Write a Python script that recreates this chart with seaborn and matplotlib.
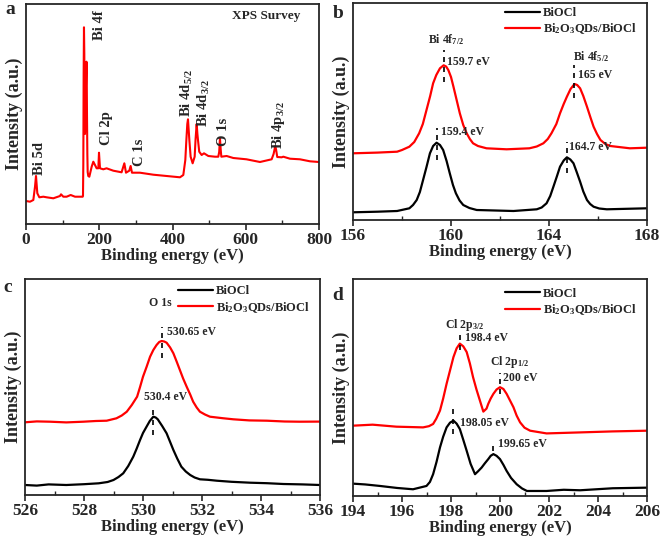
import numpy as np
import pandas as pd
import seaborn as sns
import matplotlib.pyplot as plt
from matplotlib.ticker import MultipleLocator

# survey spectrum (panel a), binding energy in eV and intensity in a.u.
survey_x = [0, 10.9, 20, 24.6, 27.3, 30.9, 36.4, 47.3, 56.4, 74.6, 92.8, 95.6, 101.9, 111, 122,
            133.8, 154.7, 155.6, 156.5, 157.4, 158.3, 159.2, 160.1, 161, 162, 163.8, 165, 165.6,
            166.5, 167.5, 168.4, 170, 172.9, 179.3, 183.8, 192.9, 197.5, 199.3, 202, 211, 220,
            238.4, 261, 268.5, 273, 282, 285.7, 289.4, 311, 347.6, 384, 420.4, 429.5, 435, 438,
            440.4, 442.3, 444, 446, 449.5, 455, 460.5, 463, 466, 468, 469.6, 473, 479.6, 486,
            497.8, 516, 525, 527.5, 529.6, 531.5, 533.3, 547.8, 566, 602, 638.8, 670.7, 676,
            680.7, 683, 686, 698, 702.5, 720.7, 748, 775.3, 800]
survey_y = [23, 22.3, 24, 37.3, 48, 30.7, 26.7, 27.3, 26.7, 25.7, 28, 29.7, 27.3, 27.3, 29,
            27.3, 27.3, 28, 60, 150, 196.7, 170, 110, 90, 100, 140, 162.3, 160, 110, 70, 52,
            48, 47.3, 57.3, 62.3, 55.7, 55.7, 71.3, 55.7, 54.7, 55.7,
            53.3, 51.7, 60.7, 51.3, 53.3, 58, 51.3, 51.3, 49.3, 48, 46.7, 49, 64, 85,
            100, 104.7, 95, 84, 67.3, 60.7, 67.3, 85, 100, 90, 84, 72.3, 69, 70.7,
            68, 67.3, 67.3, 72, 85.7, 75, 67.3, 68, 66, 64.7, 62, 64.7, 70,
            78, 74, 67, 66.7, 67.3, 65.3, 64.7, 62.7, 62]

# Bi 4f (panel b)
bi4f_x_red = [156, 157.0, 157.8, 158.0, 158.3, 158.5, 158.7, 158.85, 159.0, 159.15, 159.27,
              159.4, 159.55, 159.7, 159.8, 159.89, 160.0, 160.1, 160.23, 160.36, 160.5, 160.64,
              160.77, 160.9, 161.1, 161.45, 162.27, 163.2, 163.5, 163.77, 163.95, 164.1, 164.3,
              164.45, 164.6, 164.73, 164.88, 165.04, 165.15, 165.27, 165.4, 165.55, 165.7,
              165.82, 165.96, 166.1, 166.3, 166.5, 167.3, 168]
bi4f_y_red = [66.7, 67.4, 68.3, 70, 73.3, 78, 86.7, 96, 110, 124, 136.7,
              145, 151.7, 154.7, 153.5, 150, 143, 133.3, 120, 106.7, 95, 86.7,
              81, 76.7, 74, 71.7, 70.7, 71.7, 73.5, 76.7, 81, 86.7, 96,
              106.7, 116, 123.3, 131, 136, 135, 131.7, 124, 113.3, 102,
              93.3, 86, 80, 76, 74, 71.7, 72.3]
bi4f_x_blk = [156, 157.0, 157.8, 158.3, 158.45, 158.6, 158.73, 158.86, 159.0, 159.14, 159.27,
              159.41, 159.55, 159.68, 159.82, 159.95, 160.08, 160.2, 160.35, 160.5, 160.75,
              161.05, 162.55, 163.5, 163.7, 163.9, 164.05, 164.18, 164.32, 164.45, 164.6,
              164.73, 164.87, 165.0, 165.13, 165.27, 165.4, 165.55, 165.68, 165.82, 166.05,
              166.36, 168]
bi4f_y_blk = [7.7, 8.3, 9, 11.7, 15, 20, 28, 40, 53, 66.7, 74,
              77.3, 75, 70, 59, 46.7, 35, 26.7, 19.5, 15, 12,
              10, 9, 10.7, 12.5, 16.7, 24, 33.3, 43.5, 53.3, 59.5,
              62.7, 60.5, 56.7, 48, 38.3, 28.5, 20, 16, 13.3, 11.5,
              10.7, 11.7]

# O 1s (panel c)
o1s_x_red = [526, 526.4, 526.85, 527.4, 527.98, 528.4, 528.77, 529.1, 529.28, 529.45, 529.62,
             529.8, 529.9, 530.0, 530.12, 530.24, 530.35, 530.46, 530.55, 530.63, 530.72,
             530.8, 530.92, 531.03, 531.14, 531.25, 531.36, 531.48, 531.6, 531.7, 531.82,
             531.93, 532.1, 532.27, 532.7, 533.06, 533.6, 534.2, 534.8, 535.3, 536]
o1s_y_red = [72.7, 73.6, 73.3, 72.6, 73.3, 74.0, 74.3, 76.7, 79.5, 83.3, 90,
             98.3, 108, 118.3, 128, 138.3, 145, 150, 153, 154, 153.5,
             152.3, 147.5, 141.7, 133.5, 125, 116.5, 108.3, 100.5, 93.3, 87.5,
             83.3, 80.5, 78.3, 76.8, 75.7, 74.6, 74.3, 73.5, 73.3, 73.4]
o1s_x_blk = [526, 526.4, 526.8, 527.4, 528.0, 528.5, 528.8, 529.0, 529.17, 529.33, 529.5,
             529.67, 529.78, 529.9, 530.0, 530.12, 530.23, 530.35, 530.43, 530.5, 530.65,
             530.8, 530.92, 531.03, 531.16, 531.3, 531.45, 531.6, 531.75, 531.93, 532.2,
             532.5, 533.0, 533.63, 534.2, 534.76, 535.4, 536]
o1s_y_blk = [10, 9.4, 10.6, 10, 10.8, 11.7, 13, 15, 18, 21.7, 29,
             38.3, 46, 55, 62, 68.3, 74, 78.3, 77.5, 75.7, 69,
             61.7, 53, 45, 36.5, 28.3, 23.5, 20, 17.5, 15.7, 15.2,
             14.3, 13.2, 12.3, 11.8, 11, 10.6, 10]

# Cl 2p (panel d)
cl2p_x_red = [194, 194.8, 195.77, 196.4, 196.86, 197.1, 197.27, 197.4, 197.55, 197.68, 197.82,
              197.96, 198.1, 198.23, 198.36, 198.5, 198.64, 198.77, 198.9, 199.04, 199.18,
              199.32, 199.45, 199.52, 199.62, 199.73, 199.86, 200.0, 200.14, 200.27, 200.41,
              200.55, 200.68, 200.82, 201.0, 201.23, 201.9, 203.27, 204.6, 206]
cl2p_y_red = [70, 71, 69, 68.6, 68.3, 69.5, 71.7, 77, 85, 97, 111.7,
              125, 138.3, 147, 151.7, 149, 143.3, 132, 118.3, 106, 95,
              84, 87, 91.7, 97, 101.7, 106, 108.3, 106.5, 101.7, 95,
              88.3, 80, 73.3, 68, 65, 62.3, 63.3, 64.3, 65]
cl2p_x_blk = [194, 194.5, 195.1, 195.8, 196.45, 197.0, 197.14, 197.27, 197.41, 197.55, 197.68,
              197.82, 197.96, 198.1, 198.23, 198.36, 198.5, 198.64, 198.8, 198.98, 199.1,
              199.25, 199.38, 199.52, 199.62, 199.73, 199.86, 200.0, 200.14, 200.27, 200.45,
              200.68, 200.9, 201.1, 201.9, 202.6, 203.27, 204.6, 206]
cl2p_y_blk = [12.3, 11.5, 10, 8, 6.7, 10, 14, 21.7, 34, 48.3, 59,
              68.3, 73, 75, 72, 66.7, 56, 45, 32, 21.7, 24.5,
              28.3, 32.5, 36.7, 40, 41.7, 40, 36.7, 31, 25, 18,
              11.7, 7.5, 5, 5, 6.2, 5.7, 7.7, 8.3]

label_blk = "BiOCl"
label_red = "Bi$_2$O$_3$QDs/BiOCl"

sns.set_style("ticks")
plt.rcParams['font.family'] = ['Liberation Serif', 'DejaVu Serif']
plt.rcParams['font.weight'] = 'bold'
plt.rcParams['mathtext.fontset'] = 'custom'
plt.rcParams['mathtext.rm'] = 'Liberation Serif:bold'
plt.rcParams['mathtext.it'] = 'Liberation Serif:bold'
plt.rcParams['mathtext.bf'] = 'Liberation Serif:bold'

fig = plt.figure(figsize=(6.61, 5.39), dpi=100)
W, H = 661, 539


def make_ax(l, t, r, b):
    return fig.add_axes([l / W, 1 - b / H, (r - l) / W, (b - t) / H])


ax_a = make_ax(26, 4, 319, 224)
ax_b = make_ax(353, 3, 647, 220)
ax_c = make_ax(25, 279, 320, 495)
ax_d = make_ax(353, 279, 647, 496)


def style(ax, xmin, xmax, ymax, major, minor):
    ax.set_xlim(xmin, xmax)
    ax.set_ylim(0, ymax)
    ax.xaxis.set_major_locator(MultipleLocator(major))
    ax.xaxis.set_minor_locator(MultipleLocator(minor))
    ax.set_yticks([])
    ax.tick_params(axis='x', which='major', direction='out', length=4, width=1.2,
                   labelsize=12.5, pad=2)
    ax.tick_params(axis='x', which='minor', direction='in', length=3, width=1.0)
    for s in ax.spines.values():
        s.set_linewidth(1.3)
    ax.set_xlabel("Binding energy (eV)", fontsize=12, fontweight='bold', labelpad=0)
    ax.set_ylabel("Intensity (a.u.)", fontsize=13, fontweight='bold', labelpad=2)


def marker(ax, x, y0, y1):
    ax.plot([x, x], [y0, y1], color='black', lw=1.2, ls=(0, (3, 3)))


def note(ax, x, y, s, ha='left', size=8.5, **kw):
    ax.text(x, y, s, fontsize=size, fontweight='bold', ha=ha, va='center', **kw)


def legend(ax, anchor):
    ax.legend(loc='upper right', bbox_to_anchor=anchor, frameon=False, fontsize=9,
              handlelength=2.8, handletextpad=0.2, labelspacing=0.2, borderaxespad=0.2)


# panel a
sns.lineplot(x=survey_x, y=survey_y, color='red', lw=1.5, ax=ax_a)
style(ax_a, 0, 800, 220, 200, 100)
for x, y, s in [(38.2, 65.7, "Bi 5d"), (200, 199, "Bi 4f"), (220, 95.7, "Cl 2p"),
                (309, 72, "C 1s"), (438.6, 130.7, "Bi 4d$_{5/2}$"),
                (486, 120.7, "Bi 4d$_{3/2}$"), (540.5, 92.3, "O 1s"),
                (689, 99, "Bi 4p$_{3/2}$")]:
    note(ax_a, x, y, s, ha='center', size=10.5, rotation=90)
note(ax_a, 657, 208, "XPS Survey", ha='center', size=9.5)

# panel b
sns.lineplot(x=bi4f_x_blk, y=bi4f_y_blk, color='black', lw=1.6, ax=ax_b, label=label_blk)
sns.lineplot(x=bi4f_x_red, y=bi4f_y_red, color='red', lw=1.6, ax=ax_b, label=label_red)
style(ax_b, 156, 168, 217, 4, 2)
legend(ax_b, (0.99, 1.015))
note(ax_b, 159.8, 180, "Bi 4f$_{7/2}$", ha='center')
marker(ax_b, 159.7, 138, 170)
note(ax_b, 159.85, 158, "159.7 eV")
note(ax_b, 165.7, 163, "Bi 4f$_{5/2}$", ha='center')
marker(ax_b, 165.04, 122, 155)
note(ax_b, 165.2, 145, "165 eV")
marker(ax_b, 159.41, 60, 92)
note(ax_b, 159.6, 88, "159.4 eV")
marker(ax_b, 164.73, 47, 78)
note(ax_b, 164.8, 73, "164.7 eV")

# panel c
sns.lineplot(x=o1s_x_blk, y=o1s_y_blk, color='black', lw=1.6, ax=ax_c, label=label_blk)
sns.lineplot(x=o1s_x_red, y=o1s_y_red, color='red', lw=1.6, ax=ax_c, label=label_red)
style(ax_c, 526, 536, 216, 2, 1)
legend(ax_c, (0.99, 1.005))
note(ax_c, 530.58, 191.7, "O 1s", ha='center')
marker(ax_c, 530.63, 137, 168)
note(ax_c, 530.8, 163, "530.65 eV")
marker(ax_c, 530.35, 60, 90)
note(ax_c, 530.75, 98, "530.4 eV", ha='center')

# panel d
sns.lineplot(x=cl2p_x_blk, y=cl2p_y_blk, color='black', lw=1.6, ax=ax_d, label=label_blk)
sns.lineplot(x=cl2p_x_red, y=cl2p_y_red, color='red', lw=1.6, ax=ax_d, label=label_red)
style(ax_d, 194, 206, 216, 2, 1)
legend(ax_d, (0.99, 0.995))
note(ax_d, 198.57, 170, "Cl 2p$_{3/2}$", ha='center')
marker(ax_d, 198.36, 145, 163)
note(ax_d, 198.57, 157, "198.4 eV")
note(ax_d, 200.4, 133, "Cl 2p$_{1/2}$", ha='center')
marker(ax_d, 200.0, 102, 122)
note(ax_d, 200.14, 117, "200 eV")
marker(ax_d, 198.1, 62, 90)
note(ax_d, 198.36, 73, "198.05 eV")
marker(ax_d, 199.73, 45, 55)
note(ax_d, 199.93, 52, "199.65 eV")

# panel letters
for x, y, s in [(10, 10, "a"), (338, 14, "b"), (8, 287, "c"), (338, 295, "d")]:
    fig.text(x / W, 1 - y / H, s, fontsize=14, fontweight='bold', ha='center', va='center')

fig.savefig("out.png", dpi=100)
